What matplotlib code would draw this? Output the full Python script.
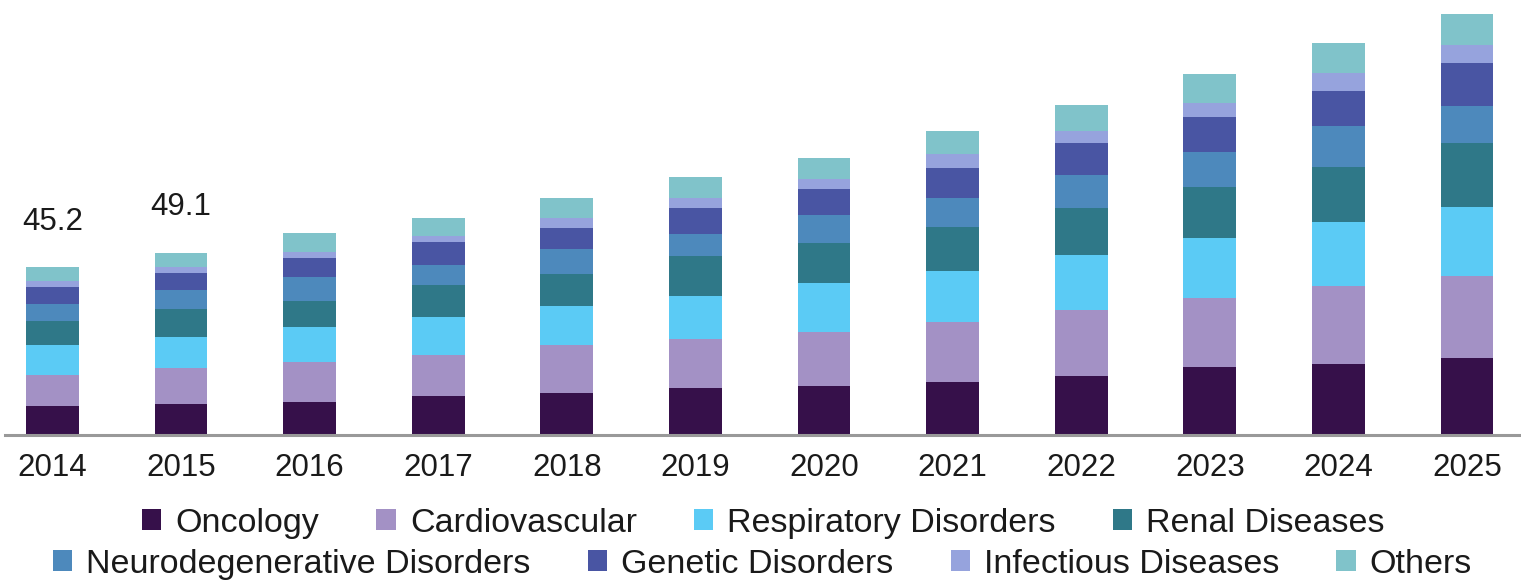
import numpy as np
import matplotlib.pyplot as plt

plt.rcParams['font.family'] = ['Liberation Sans', 'DejaVu Sans']

years = ["2014", "2015", "2016", "2017", "2018", "2019",
         "2020", "2021", "2022", "2023", "2024", "2025"]

# market size by segment (USD bn)
oncology = [7.8, 8.3, 9.0, 10.5, 11.2, 12.6, 13.3, 14.4, 15.8, 18.3, 19.2, 20.8]
cardiovascular = [8.5, 9.9, 10.6, 11.2, 13.0, 13.2, 14.4, 16.2, 17.8, 18.7, 20.9, 22.0]
respiratory = [7.9, 8.2, 9.5, 10.0, 10.6, 11.7, 13.2, 13.5, 15.0, 16.2, 17.3, 18.7]
renal = [6.5, 7.6, 7.1, 8.7, 8.7, 10.8, 11.0, 12.1, 12.6, 13.7, 15.0, 17.3]
neuro = [4.7, 5.0, 6.3, 5.4, 6.7, 5.9, 7.4, 7.8, 9.0, 9.5, 10.8, 9.9]
genetic = [4.5, 4.7, 5.3, 6.3, 5.7, 6.9, 7.0, 7.9, 8.5, 9.3, 9.6, 11.5]
infectious = [1.6, 1.6, 1.6, 1.6, 2.7, 2.7, 2.7, 3.9, 3.4, 3.9, 4.7, 4.9]
others = [3.7, 3.8, 5.0, 4.7, 5.4, 5.8, 5.8, 6.3, 6.9, 7.7, 8.1, 8.5]

series = [oncology, cardiovascular, respiratory, renal, neuro, genetic, infectious, others]
names = ["Oncology", "Cardiovascular", "Respiratory Disorders", "Renal Diseases",
         "Neurodegenerative Disorders", "Genetic Disorders", "Infectious Diseases", "Others"]
colors = ["#36104A", "#A391C5", "#5BCBF5", "#2F7888",
          "#4D89BC", "#4955A3", "#96A3DD", "#80C3CA"]

labelled = [0, 1]          # only the first two bars carry the total

fig = plt.figure(figsize=(15.21, 5.80), dpi=100)
ax = fig.add_axes([0.0033, 0.25, 0.9967, 0.75])

x = np.arange(len(years))
bottom = np.zeros(len(years))
handles = []
for vals, name, col in zip(series, names, colors):
    b = ax.bar(x, vals, 0.41, bottom=bottom, color=col, label=name, linewidth=0)
    handles.append(b)
    bottom += np.array(vals)

for i in labelled:
    ax.annotate(f"{bottom[i]:.1f}", (x[i], bottom[i]), xytext=(0, 33),
                textcoords="offset points", ha="center", va="center",
                fontsize=22.5, color="#1a1a1a")

ax.set_xlim(-0.369, 11.42)
ax.set_ylim(0, 117.3)
ax.set_xticks(x)
ax.set_xticklabels(years, fontsize=22.5, color="#1a1a1a")
ax.tick_params(axis="x", length=0, pad=13)
ax.set_yticks([])
for s in ["top", "right", "left"]:
    ax.spines[s].set_visible(False)
ax.spines["bottom"].set_color("#999999")
ax.spines["bottom"].set_linewidth(2.2)

leg_kw = dict(loc="center", ncol=4, frameon=False, fontsize=24.5,
              handlelength=0.56, handleheight=0.56, handletextpad=0.42,
              columnspacing=1.68, borderpad=0, borderaxespad=0)
l1 = fig.legend(handles[:4], names[:4], bbox_to_anchor=(0.502, 0.098), **leg_kw)
l2 = fig.legend(handles[4:], names[4:], bbox_to_anchor=(0.5013, 0.027), **leg_kw)
for t in l1.get_texts() + l2.get_texts():
    t.set_color("#1a1a1a")

fig.savefig("out.png", dpi=100)
